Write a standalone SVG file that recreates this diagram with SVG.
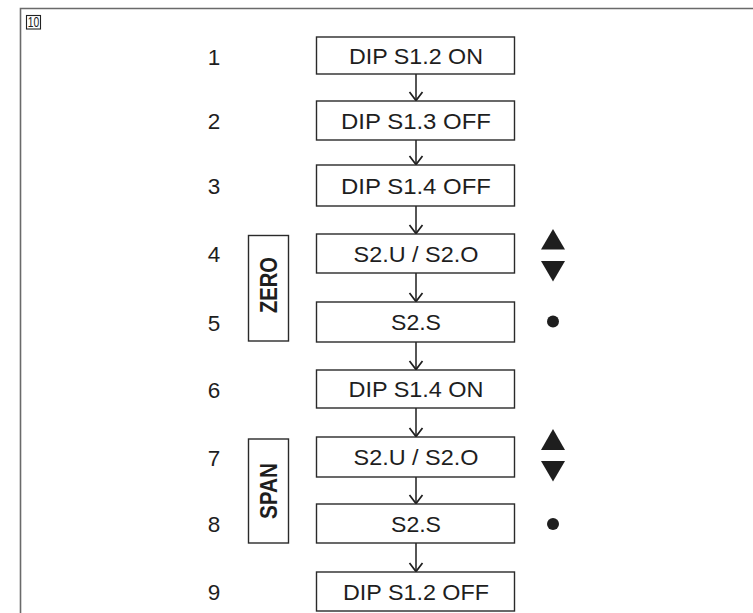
<svg xmlns="http://www.w3.org/2000/svg" width="753" height="613" viewBox="0 0 753 613">
<defs>
<style>
.frame{fill:none;stroke:#6a6a6a;stroke-width:1.6}
.box{fill:#fff;stroke:#2a2a2a;stroke-width:1.4}
.t{font-family:"Liberation Sans",Arial,sans-serif;font-size:22px;fill:#1e1e1e;text-anchor:middle}
.n{font-family:"Liberation Sans",Arial,sans-serif;font-size:22.5px;fill:#1e1e1e;text-anchor:middle}
.b{font-family:"Liberation Sans",Arial,sans-serif;font-size:23px;font-weight:bold;fill:#1e1e1e;text-anchor:middle}
.c{fill:none;stroke:#1e1e1e;stroke-width:1.5}
.sym{fill:#1e1e1e}
</style>
<path id="chev" d="M-6.5,-9 L0,-0.5 L6.5,-9" fill="none" stroke="#1e1e1e" stroke-width="1.7"/>
</defs>
<rect width="753" height="613" fill="#fff"/>
<path class="frame" d="M20.5,613 V8.5 H753"/>
<g id="figno">
<rect x="26.5" y="15.5" width="14" height="13.5" fill="none" stroke="#222" stroke-width="1.1"/>
<text x="33.5" y="27.3" font-family="Liberation Sans,Arial,sans-serif" font-size="14" text-anchor="middle" fill="#222" textLength="11.5" lengthAdjust="spacingAndGlyphs">10</text>
</g>
<g id="connectors">
<line class="c" x1="416" y1="74" x2="416" y2="100"/><use href="#chev" x="416" y="101"/>
<line class="c" x1="416" y1="140" x2="416" y2="164"/><use href="#chev" x="416" y="165"/>
<line class="c" x1="416" y1="206" x2="416" y2="233"/><use href="#chev" x="416" y="234"/>
<line class="c" x1="416" y1="273" x2="416" y2="301"/><use href="#chev" x="416" y="302"/>
<line class="c" x1="416" y1="342" x2="416" y2="369"/><use href="#chev" x="416" y="370"/>
<line class="c" x1="416" y1="408" x2="416" y2="436"/><use href="#chev" x="416" y="437"/>
<line class="c" x1="416" y1="477" x2="416" y2="503"/><use href="#chev" x="416" y="504"/>
<line class="c" x1="416" y1="543" x2="416" y2="571"/><use href="#chev" x="416" y="572"/>
</g>
<g id="step1"><text class="n" x="214" y="64.5">1</text><rect class="box" x="316.5" y="37" width="198" height="37"/><text class="t" x="416" y="64" textLength="134" lengthAdjust="spacingAndGlyphs">DIP S1.2 ON</text></g>
<g id="step2"><text class="n" x="214" y="129">2</text><rect class="box" x="316.5" y="101" width="198" height="39"/><text class="t" x="416" y="129" textLength="150" lengthAdjust="spacingAndGlyphs">DIP S1.3 OFF</text></g>
<g id="step3"><text class="n" x="214" y="194">3</text><rect class="box" x="316.5" y="165" width="198" height="41"/><text class="t" x="416" y="194" textLength="150" lengthAdjust="spacingAndGlyphs">DIP S1.4 OFF</text></g>
<g id="step4"><text class="n" x="214" y="262">4</text><rect class="box" x="316.5" y="234" width="198" height="39"/><text class="t" x="416" y="262" textLength="125" lengthAdjust="spacingAndGlyphs">S2.U / S2.O</text></g>
<g id="step5"><text class="n" x="214" y="330.5">5</text><rect class="box" x="316.5" y="302" width="198" height="40"/><text class="t" x="416" y="330" textLength="50" lengthAdjust="spacingAndGlyphs">S2.S</text></g>
<g id="step6"><text class="n" x="214" y="397.5">6</text><rect class="box" x="316.5" y="370" width="198" height="38"/><text class="t" x="416" y="397" textLength="135" lengthAdjust="spacingAndGlyphs">DIP S1.4 ON</text></g>
<g id="step7"><text class="n" x="214" y="465.5">7</text><rect class="box" x="316.5" y="437" width="198" height="40"/><text class="t" x="416" y="465" textLength="125" lengthAdjust="spacingAndGlyphs">S2.U / S2.O</text></g>
<g id="step8"><text class="n" x="214" y="532">8</text><rect class="box" x="316.5" y="504" width="198" height="39"/><text class="t" x="416" y="532" textLength="50" lengthAdjust="spacingAndGlyphs">S2.S</text></g>
<g id="step9"><text class="n" x="214" y="600">9</text><rect class="box" x="316.5" y="572" width="198" height="39"/><text class="t" x="416" y="600" textLength="146" lengthAdjust="spacingAndGlyphs">DIP S1.2 OFF</text></g>
<g id="zero"><rect class="box" x="248.5" y="235.5" width="40" height="105.5"/><text class="b" transform="translate(276.5,285) rotate(-90)" x="0" y="0" textLength="56" lengthAdjust="spacingAndGlyphs">ZERO</text></g>
<g id="span"><rect class="box" x="248.5" y="439" width="40" height="104"/><text class="b" transform="translate(276.5,491) rotate(-90)" x="0" y="0" textLength="56" lengthAdjust="spacingAndGlyphs">SPAN</text></g>
<g id="keys-zero">
<polygon class="sym" points="553,229 565,249.5 541,249.5"/>
<polygon class="sym" points="541,261 565,261 553,281.5"/>
<circle class="sym" cx="553" cy="321.5" r="6"/>
</g>
<g id="keys-span">
<polygon class="sym" points="553,429 565,450 541,450"/>
<polygon class="sym" points="541,461 565,461 553,481.5"/>
<circle class="sym" cx="553" cy="524" r="6"/>
</g>
</svg>
